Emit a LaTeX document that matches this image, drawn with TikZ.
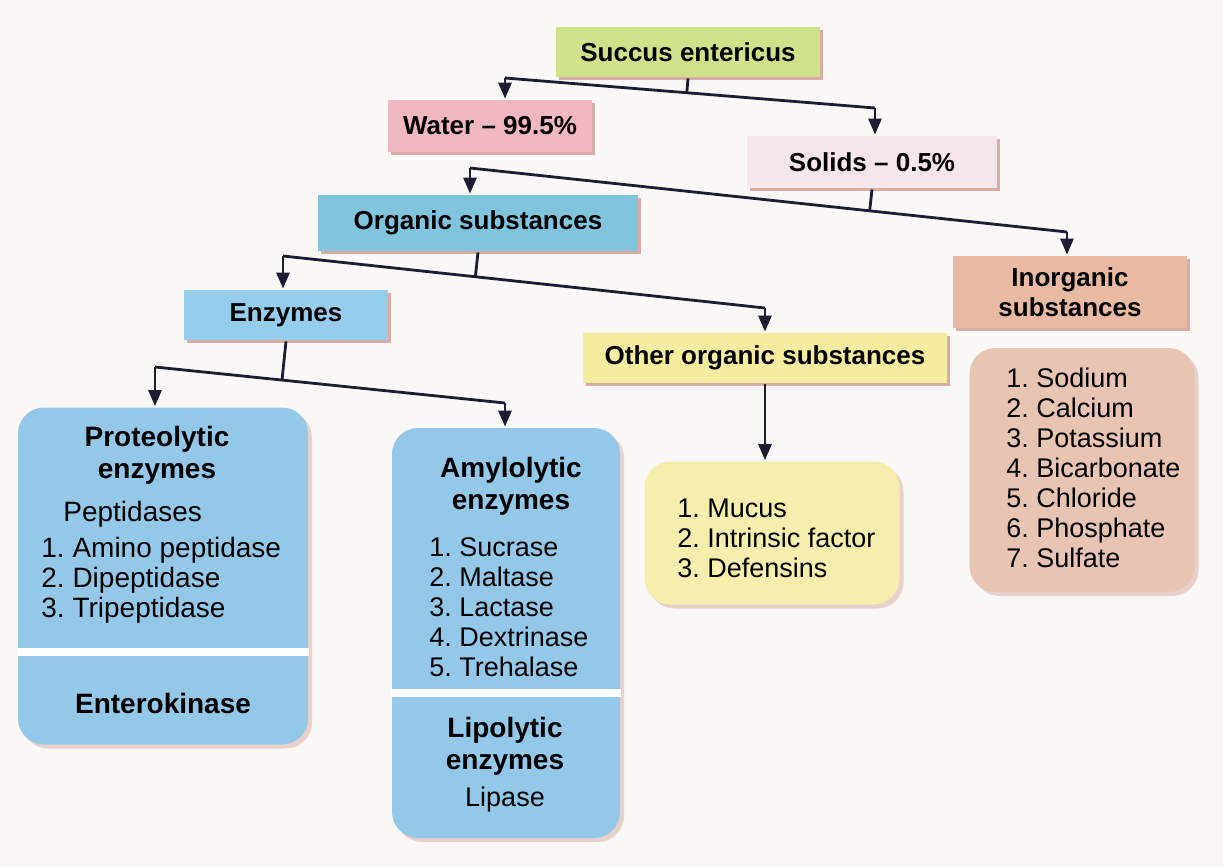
\documentclass[tikz,border=0pt]{standalone}
\usepackage{fontspec}
\setmainfont{Liberation Sans}
\frenchspacing
\usetikzlibrary{arrows.meta,positioning,calc,shadows}
\definecolor{ink}{RGB}{28,28,50}
\definecolor{paper}{RGB}{249,248,246}
\definecolor{lime}{RGB}{206,226,140}
\definecolor{rose}{RGB}{242,184,194}
\definecolor{blush}{RGB}{246,230,234}
\definecolor{sea}{RGB}{128,196,222}
\definecolor{sky}{RGB}{150,204,236}
\definecolor{skybox}{RGB}{148,200,232}
\definecolor{straw}{RGB}{246,236,160}
\definecolor{strawbox}{RGB}{246,238,172}
\definecolor{peach}{RGB}{232,186,162}
\definecolor{peachbox}{RGB}{232,196,178}
\definecolor{rim}{RGB}{196,120,112}
\tikzset{
  every picture/.style={color=ink, line width=1.4pt},
  head/.style={rectangle, inner sep=3pt, align=center, text=black,
    font=\fontsize{13}{15}\selectfont\bfseries,
    drop shadow={shadow xshift=1.5pt, shadow yshift=-1.5pt, fill=rim, opacity=0.6}},
  panel/.style={rectangle, rounded corners=13pt, inner sep=0pt,
    drop shadow={shadow xshift=2pt, shadow yshift=-2pt, fill=rim!70, opacity=0.45}},
  title/.style={align=center, text=black, font=\fontsize{14}{16}\selectfont\bfseries},
  items/.style={align=left, text=black, inner sep=0pt, anchor=west,
    font=\fontsize{13.5}{15}\selectfont},
  flow/.style={-{Triangle[length=8pt,width=6.5pt]}, line width=1.4pt, color=ink},
  link/.style={line width=1.4pt, color=ink},
  gap/.style={line width=4pt, color=white},
}

\begin{document}
\begin{tikzpicture}[x=0.5pt, y=-0.5pt]
  \fill[paper] (0,0) rectangle (1223,867);
  % header boxes
  \node[head, fill=lime, minimum width=132pt, minimum height=25pt] (succus) at (688,52) {Succus entericus};
  \node[head, fill=rose, minimum width=102pt, minimum height=26pt] (water) at (490,126) {Water -- 99.5\%};
  \node[head, fill=blush, minimum width=125pt, minimum height=26pt] (solids) at (872,162) {Solids -- 0.5\%};
  \node[head, fill=sea, minimum width=160pt, minimum height=28pt] (organic) at (478,223) {Organic substances};
  \node[head, fill=peach, minimum width=117pt, minimum height=36pt] (inorganic) at (1070,292) {Inorganic\\substances};
  \node[head, fill=sky, minimum width=102pt, minimum height=25pt] (enzymes) at (286,315) {Enzymes};
  \node[head, fill=straw, minimum width=182pt, minimum height=25pt] (other) at (765,358) {Other organic substances};
  % panels
  \node[panel, fill=skybox, minimum width=145pt, minimum height=168.5pt] (prot) at (163,576) {};
  \node[panel, fill=skybox, minimum width=114pt, minimum height=205pt] (amyl) at (506,633) {};
  \node[panel, fill=strawbox, minimum width=127.5pt, minimum height=71.5pt] (otherlist) at (772,533) {};
  \node[panel, fill=peachbox, minimum width=112.5pt, minimum height=122pt] (minerals) at (1082,470) {};
  \coordinate (protcut) at (0,652);
  \coordinate (amylcut) at (0,693);
  \draw[gap] (prot.west |- protcut) -- (prot.east |- protcut);
  \draw[gap] (amyl.west |- amylcut) -- (amyl.east |- amylcut);
  % panel texts
  \node[title] (prottitle) at (157,455) {Proteolytic\\enzymes};
  \node[items, font=\fontsize{14}{15}\selectfont] (protlist) at (40,562) {\hspace*{11pt}Peptidases\\[3pt]1. Amino peptidase\\2. Dipeptidase\\3. Tripeptidase};
  \node[title] (entero) at (163,703) {Enterokinase};
  \node[title] (amyltitle) at (511,486) {Amylolytic\\enzymes};
  \node[items] (amyllist) at (428,607) {1. Sucrase\\2. Maltase\\3. Lactase\\4. Dextrinase\\5. Trehalase};
  \node[title] (lipotitle) at (505,746) {Lipolytic\\enzymes};
  \node[items, anchor=center] (lipase) at (505,800) {Lipase};
  \node[items] (otheritems) at (676,538) {1. Mucus\\2. Intrinsic factor\\3. Defensins};
  \node[items] (mineralitems) at (1005,468) {1. Sodium\\2. Calcium\\3. Potassium\\4. Bicarbonate\\5. Chloride\\6. Phosphate\\7. Sulfate};
  % connectors
  \coordinate (w1) at (505,78);
  \coordinate (s1) at (875,108);
  \draw[link] (succus.south) -- ($(w1)!(succus.south)!(s1)$);
  \draw[link] (w1) -- (s1);
  \draw[flow] (w1) -- (w1 |- water.north);
  \draw[flow] (s1) -- (s1 |- solids.north);
  \coordinate (o1) at (470,168);
  \coordinate (i1) at (1067,232);
  \draw[link] (solids.south) -- ($(o1)!(solids.south)!(i1)$);
  \draw[link] (o1) -- (i1);
  \draw[flow] (o1) -- (o1 |- organic.north);
  \draw[flow] (i1) -- (i1 |- inorganic.north);
  \coordinate (e1) at (283,256);
  \coordinate (t1) at (765,308);
  \draw[link] (organic.south) -- ($(e1)!(organic.south)!(t1)$);
  \draw[link] (e1) -- (t1);
  \draw[flow] (e1) -- (e1 |- enzymes.north);
  \draw[flow] (t1) -- (t1 |- other.north);
  \coordinate (p1) at (155,367);
  \coordinate (a1) at (505,403);
  \draw[link] (enzymes.south) -- ($(p1)!(enzymes.south)!(a1)$);
  \draw[link] (p1) -- (a1);
  \draw[flow] (p1) -- (p1 |- prot.north);
  \draw[flow] (a1) -- (a1 |- amyl.north);
  \draw[flow] (other.south) -- (other.south |- otherlist.north);
\end{tikzpicture}
\end{document}
